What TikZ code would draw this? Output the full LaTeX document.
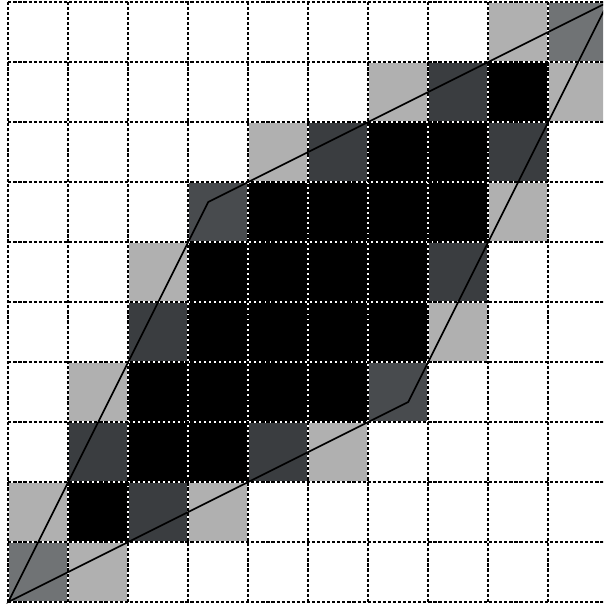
\documentclass[tikz,border=0pt]{standalone}
\definecolor{pxlight}{RGB}{176,176,176}
\definecolor{pxmid}{RGB}{112,115,117}
\definecolor{pxdark}{RGB}{58,61,64}
\definecolor{pxdarkb}{RGB}{72,75,78}
\begin{document}
\begin{tikzpicture}[line join=miter]
	\def\xmin{-0.138}\def\xmax{9.912}\def\ymin{-0.05}\def\ymax{10.033}
	\useasboundingbox (\xmin,\ymin) rectangle (\xmax,\ymax);
	\clip (\xmin,\ymin) rectangle (\xmax,\ymax);
	% fully covered pixels
	\foreach \j/\a/\b in {8/8/8,7/6/7,6/4/7,5/3/6,4/3/6,3/2/5,2/2/3,1/1/1}\foreach \i in {\a,...,\b}\fill[black](\i,\j) rectangle +(1,1);
	% partly covered pixels
	\foreach \i/\j/\c in {8/9/pxlight,6/8/pxlight,9/8/pxlight,4/7/pxlight,8/6/pxlight,2/5/pxlight,7/4/pxlight,1/3/pxlight,5/2/pxlight,0/1/pxlight,3/1/pxlight,1/0/pxlight,
		9/9/pxmid,0/0/pxmid,
		7/8/pxdark,5/7/pxdark,8/7/pxdark,7/5/pxdark,2/4/pxdark,1/2/pxdark,4/2/pxdark,2/1/pxdark,3/6/pxdarkb,6/3/pxdarkb}\fill[\c](\i,\j) rectangle +(1,1);
	% pixel grid
	\draw[white,line width=.8pt](0,0) grid (10,10);
	\draw[black,line width=.8pt,dash pattern=on 1.5pt off .9pt](0,0) grid (10,10);
	% parallelogram
	\coordinate (A) at (0,0);
	\coordinate (B) at (20/3,10/3);
	\coordinate (C) at (10,10);
	\coordinate (D) at (10/3,20/3);
	\draw[line width=.8pt](A)--(B)--(C)--(D)--cycle;
\end{tikzpicture}
\end{document}
